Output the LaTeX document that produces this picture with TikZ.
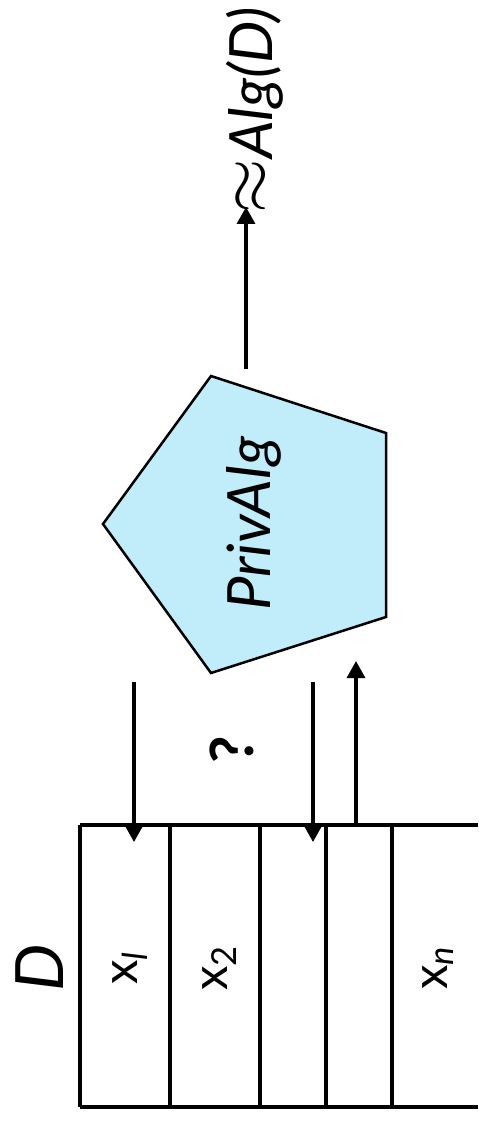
\documentclass[tikz,border=0pt]{standalone}
\usepackage{fontspec}
\setmainfont{Lato}
\usetikzlibrary{arrows.meta}
\definecolor{algblue}{RGB}{193,236,250}
\begin{document}
\begin{tikzpicture}[x=0.02cm,y=-0.02cm,
  tbl/.style={line width=0.08cm},
  arr/.style={line width=0.065cm,-{Triangle[length=0.34cm,width=0.36cm]}},
  lbl/.style={rotate=90,anchor=base,inner sep=0pt},
  big/.style={font=\fontsize{34}{40}\selectfont\itshape},
  cell/.style={font=\fontsize{28}{32}\selectfont}]
\useasboundingbox (0,0) rectangle (478,1122);
% table
\draw[tbl] (80,825) -- (478,825);
\draw[tbl] (80,1107) -- (478,1107);
\foreach \xx in {80,170,260,326,392} \draw[tbl] (\xx,825) -- (\xx,1107);
% labels of table
\node[lbl,font=\fontsize{38}{44}\selectfont\itshape] (D) at (63,968) {D};
\node[lbl,cell] (x1) at (137,968) {x\textsubscript{\textit{l}}};
\node[lbl,cell] (x2) at (227,968) {x\textsubscript{2}};
\node[lbl,cell] (xn) at (447,968) {x\textsubscript{\textit{n}}};
% pentagon
\draw[line width=0.05cm,fill=algblue,line join=miter] (211,376) -- (386,433) -- (386,617) -- (211,673) -- (103,524) -- cycle;
\node[lbl,big] (alg) at (270,524) {PrivAlg};
% output
\node[lbl,big] (out) at (272,110) {\raisebox{0.05em}{\scalebox{1.6}{$\approx$}}Alg(D)};
% question mark
\node[lbl,font=\fontsize{34}{40}\selectfont\bfseries] (q) at (253,750) {?};
% arrow coordinates
\coordinate (a1s) at (134,682); \coordinate (a1e) at (134,842);
\coordinate (a2s) at (313,682); \coordinate (a2e) at (313,842);
\coordinate (a3s) at (356,825); \coordinate (a3e) at (356,661);
\coordinate (a4s) at (246,369); \coordinate (a4e) at (246,207);
\draw[arr] (a1s) -- (a1e);
\draw[arr] (a2s) -- (a2e);
\draw[arr] (a3s) -- (a3e);
\draw[arr] (a4s) -- (a4e);
\end{tikzpicture}
\end{document}
